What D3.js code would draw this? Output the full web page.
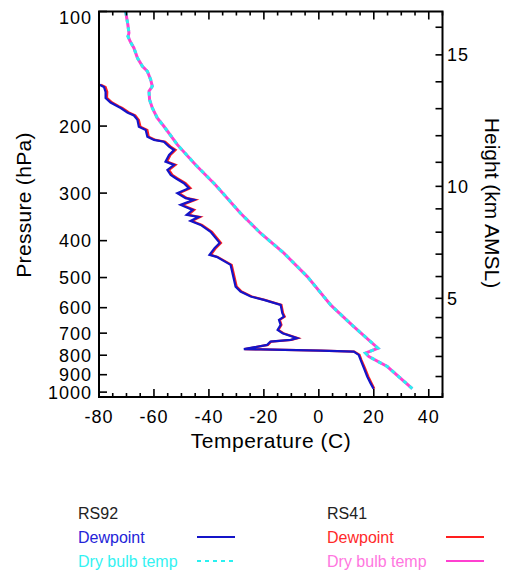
<!DOCTYPE html>
<html><head><meta charset="utf-8">
<script src="https://cdn.jsdelivr.net/npm/d3@7"></script>
<style>body{margin:0;background:#fff}svg{display:block}text{font-family:"Liberation Sans",Arial,Helvetica,sans-serif}</style>
</head><body><svg id="c" width="507" height="572"></svg>
<script>
// Dry bulb temperature profiles (pressure hPa, temperature C)
const tempPressure = [100,108.3,113.9,116.2,119.7,124.7,132.5,139.3,143.6,151.0,157.2,162.0,170.5,179.3,190.4,200.2,223.8,253.0,285.5,338.8,382.4,431.5,497.1,589.9,601.8,672.6,766.5,790.0,806.4,856.7,979.1];
const tempRS92 = [-70.3,-69.5,-69.1,-69.5,-68.7,-67.3,-66.0,-64.2,-62.4,-61.2,-60.6,-61.8,-61.6,-60.6,-58.8,-56.4,-51.5,-44.8,-37.6,-28.5,-21.2,-12.7,-4.2,4.3,5.5,12.7,21.5,17.0,18.2,24.9,34.0];
const tempRS41 = [-70.3,-69.5,-69.1,-69.4,-68.7,-67.3,-66.0,-64.2,-62.4,-61.2,-60.6,-61.8,-61.6,-60.6,-58.8,-56.4,-51.5,-44.8,-37.6,-28.5,-21.2,-12.7,-4.2,4.3,5.5,12.7,21.5,17.0,18.2,24.9,34.0];
// Dewpoint profiles
const dewPressure = [155.7,157.9,162.7,168.7,173.4,177.4,179.3,184.2,187.6,192.7,200.7,204.8,213.2,217.5,219.8,226.5,231.1,238.2,248.0,253.0,260.8,268.8,274.2,282.6,291.3,300.2,309.4,312.6,322.2,332.1,342.3,346.5,355.0,363.6,379.4,405.5,417.9,436.0,441.3,463.2,528.1,544.3,561.0,572.4,589.9,620.3,633.2,646.0,665.8,686.2,700.1,721.6,729.0,736.6,751.4,771.2,772.1,777.7,782.5,798.2,822.8,865.0,910.0,947.1,980.2];
const dewRS92 = [-79.8,-78.2,-77.6,-77.6,-75.8,-73.3,-72.1,-69.7,-67.3,-66.0,-65.5,-63.0,-62.4,-60.0,-56.4,-54.5,-52.7,-54.5,-55.8,-52.7,-55.1,-53.9,-52.1,-49.1,-47.3,-51.5,-48.5,-45.5,-50.3,-45.9,-48.1,-43.8,-46.7,-43.0,-39.4,-36.1,-37.9,-39.8,-37.2,-32.1,-30.3,-28.5,-24.8,-20.0,-13.9,-13.3,-12.7,-14.5,-13.9,-15.0,-13.2,-7.9,-10.3,-17.6,-18.8,-27.3,-21.2,0.6,12.7,14.5,15.2,16.4,17.6,18.8,19.9];
const dewRS41 = [-79.3,-77.6,-77.0,-77.1,-75.2,-72.8,-71.5,-69.1,-66.8,-65.5,-64.9,-62.4,-61.9,-59.4,-55.9,-53.9,-52.1,-54.0,-55.2,-52.1,-54.5,-53.3,-51.5,-48.5,-46.7,-50.9,-47.9,-44.9,-49.7,-45.3,-47.5,-43.2,-46.2,-42.5,-38.9,-35.6,-37.4,-39.3,-36.8,-31.7,-29.9,-28.1,-24.4,-19.7,-13.6,-13.0,-12.4,-14.2,-13.6,-14.7,-12.9,-7.6,-10.0,-17.3,-18.5,-27.0,-21.0,0.8,12.9,14.8,15.5,16.8,18.0,19.2,20.2];
// Axis ticks
const tempTicks = [-80,-60,-40,-20,0,20,40];
const pressureTicks = [100,200,300,400,500,600,700,800,900,1000];
const heightKm = [1,2,3,4,5,6,7,8,9,10,11,12,13,14,15,16];
const heightPressure = [910,806,719,637,567,497,434,380,330,288,249,212,180,153,130,110];
const heightLabels = [5,10,15];

const svg = d3.select("#c");
const L=99, R=442.5, T=11.5, B=397;
const x = d3.scaleLinear().domain([-80,45]).range([L,R]);
const y = d3.scaleLog().domain([100,1030]).range([T,B]);

const COL = {blue:"#1414c8", cyan:"#2af0f0", red:"#ff1e1e", mag:"#ff40d0"};

svg.append("clipPath").attr("id","clip").append("rect").attr("x",L).attr("y",T).attr("width",R-L).attr("height",B-T);
const g = svg.append("g").attr("clip-path","url(#clip)");
const line = d3.line().x(d=>x(d[1])).y(d=>y(d[0]));
const zipS = (p,v)=>p.map((pp,i)=>[pp,v[i]]);

g.append("path").attr("d",line(zipS(tempPressure,tempRS41))).attr("fill","none").attr("stroke",COL.mag).attr("stroke-width",3);
g.append("path").attr("d",line(zipS(tempPressure,tempRS92))).attr("fill","none").attr("stroke",COL.cyan).attr("stroke-width",3).attr("stroke-dasharray","4,4");
g.append("path").attr("d",line(zipS(dewPressure,dewRS41))).attr("fill","none").attr("stroke",COL.red).attr("stroke-width",2.2);
g.append("path").attr("d",line(zipS(dewPressure,dewRS92))).attr("fill","none").attr("stroke",COL.blue).attr("stroke-width",2.2);

// frame
svg.append("rect").attr("x",L).attr("y",T).attr("width",R-L).attr("height",B-T).attr("fill","none").attr("stroke","#000").attr("stroke-width",2);

// x ticks (bottom and top), minor every 5
const minorX = d3.range(-80,46,5);
minorX.forEach(v=>{
  const len = v%20===0?8:4;
  svg.append("line").attr("x1",x(v)).attr("x2",x(v)).attr("y1",B).attr("y2",B-len).attr("stroke","#000").attr("stroke-width",1.6);
  svg.append("line").attr("x1",x(v)).attr("x2",x(v)).attr("y1",T).attr("y2",T+len).attr("stroke","#000").attr("stroke-width",1.6);
});
tempTicks.forEach(v=>{
  svg.append("text").attr("x",x(v)).attr("y",423).attr("text-anchor","middle").attr("font-size",18).attr("letter-spacing",1).text(v);
});
svg.append("text").attr("x",271).attr("y",448).attr("text-anchor","middle").attr("font-size",21).attr("letter-spacing",0.5).text("Temperature (C)");

// left pressure ticks
pressureTicks.forEach(p=>{
  svg.append("line").attr("x1",L).attr("x2",L+8).attr("y1",y(p)).attr("y2",y(p)).attr("stroke","#000").attr("stroke-width",1.6);
  svg.append("text").attr("x",92).attr("y",Math.max(y(p),17)+6.5).attr("text-anchor","end").attr("font-size",18).attr("letter-spacing",1).text(p);
});
svg.append("text").attr("transform","translate(31,205) rotate(-90)").attr("text-anchor","middle").attr("font-size",21).attr("letter-spacing",0.3).text("Pressure (hPa)");

// right height ticks
heightKm.forEach((h,i)=>{
  svg.append("line").attr("x1",R).attr("x2",R-7).attr("y1",y(heightPressure[i])).attr("y2",y(heightPressure[i])).attr("stroke","#000").attr("stroke-width",1.6);
  if(heightLabels.includes(h)){
    svg.append("text").attr("x",447).attr("y",y(heightPressure[i])+6.5).attr("font-size",18).attr("letter-spacing",1).text(h);
  }
});
svg.append("text").attr("transform","translate(485,203) rotate(90)").attr("text-anchor","middle").attr("font-size",21).text("Height (km AMSL)");

// legend
const leg = [
  {x:78, lx:197, title:"RS92", items:[{t:"Dewpoint",c:COL.blue,tc:"#2424d8",dash:null},{t:"Dry bulb temp",c:COL.cyan,tc:"#33f2f2",dash:"4,4"}]},
  {x:327, lx:446, title:"RS41", items:[{t:"Dewpoint",c:COL.red,tc:"#ff2a2a",dash:null},{t:"Dry bulb temp",c:COL.mag,tc:"#ff77e0",dash:null}]}
];
leg.forEach(s=>{
  svg.append("text").attr("x",s.x).attr("y",519).attr("font-size",16).attr("fill","#222").text(s.title);
  s.items.forEach((it,i)=>{
    const yy = 537 + i*24;
    svg.append("text").attr("x",s.x).attr("y",yy+6).attr("font-size",16).attr("fill",it.tc).text(it.t);
    const ln = svg.append("line").attr("x1",s.lx).attr("x2",s.lx+38).attr("y1",yy).attr("y2",yy).attr("stroke",it.c).attr("stroke-width",2.2);
    if(it.dash) ln.attr("stroke-dasharray",it.dash);
  });
});
</script></body></html>
